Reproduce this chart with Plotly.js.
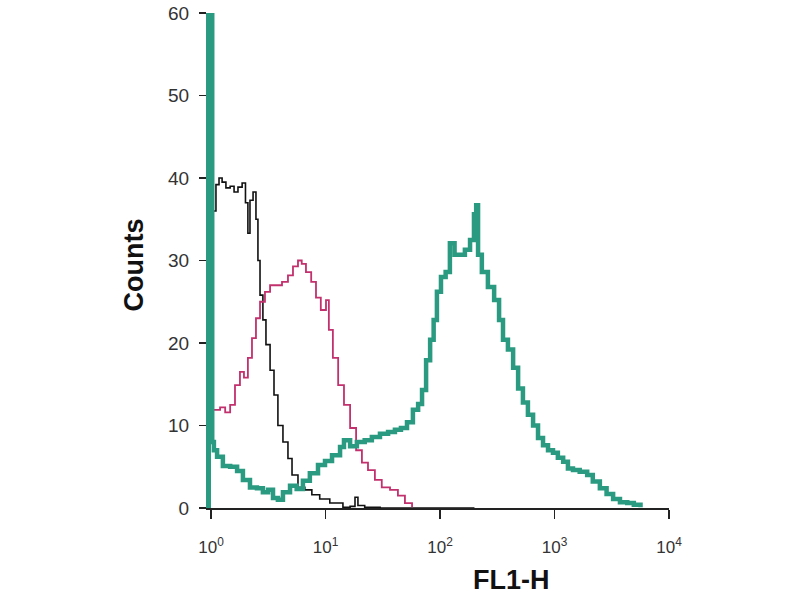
<!DOCTYPE html>
<html>
<head>
<meta charset="utf-8">
<script src="https://cdn.plot.ly/plotly-3.0.1.min.js"></script>
<style>html,body{margin:0;padding:0;background:#fff;}#chart{width:800px;height:600px;}</style>
</head>
<body>
<div id="chart"></div>
<script>
// Control (black) histogram
const blackX = [1.035,1.105,1.175,1.25,1.35,1.47,1.59,1.72,1.87,2.0,2.1,2.19,2.33,2.47,2.57,2.68,2.84,3.02,3.28,3.55,3.84,4.25,4.7,5.1,5.75,6.6,7.6,8.9,10.9,14.2,16.4,18.1,19.2,22,30,60,200];
const blackY = [36,39.2,40,39.5,38.8,39,38.3,38.9,39.4,37,33.3,37.3,38.3,35,30,25.8,22.8,19.8,16.7,13.7,10,8,6,4,2.5,2.2,1.6,1.1,0.6,0.1,0.2,1.3,0.3,0.1,0,0,0];

// Isotype / secondary (magenta) histogram
const magX = [1.06,1.2,1.33,1.47,1.62,1.79,1.94,2.1,2.28,2.47,2.68,2.96,3.28,3.7,4.17,4.7,5.2,5.75,6.2,6.75,7.5,8.26,9.1,10.1,10.7,11.6,12.9,14.5,16.4,18.5,20.8,23.5,27,31,36.6,42.9,49.4,57];
const magY = [11.9,12.2,11.6,12.5,14.9,16.5,15.8,18.2,20.6,23,25,26.2,27,27,27.4,28.2,29.3,30,29.6,28.6,27.4,25.5,24,25.2,21.6,18.2,14.9,12.5,9.7,7,5.5,4.6,3.4,2.5,2.2,1.5,0.6,0.1];

// Stained (teal) histogram
const tealX = [1.0,1.025,1.06,1.13,1.27,1.47,1.69,1.9,2.19,2.52,2.84,3.15,3.48,3.84,4.25,4.9,5.6,6.35,7.3,8.6,9.9,11.4,13.4,14.5,16.4,18.8,22,25.4,29.9,35.2,40.4,45.6,51.5,58,64.4,69.7,75.6,82,88,94,102,112,122,134,148,165,183,198,207,215,232,262,297,328,355,392,435,481,530,586,650,718,794,878,970,1070,1190,1310,1450,1660,1930,2160,2490,2850,3250,3730,4320,4930,5640];
const tealY = [75,8,7,6.2,5.1,5.0,4.5,3.4,2.5,2.4,1.9,2.2,1.2,1.0,1.9,2.7,2.3,3.3,4.2,5.2,5.7,6.4,7.4,8.2,7.5,8,8.2,8.6,9,9.2,9.5,9.7,10.4,11.9,12.6,14.3,17.9,20.4,22.8,26.2,28,28.6,32.1,30.7,30.7,31.3,32.5,35.6,36.7,30.7,28.6,26.8,25.2,22.8,20.4,19.2,17,14.5,12.8,11.3,10,8.5,7.6,7,6.7,6.1,5.6,4.8,4.6,4.4,4,3.2,2.4,1.7,1.1,0.7,0.6,0.4,0.1];

const xTickVals = [1,10,100,1000,10000];
const xTickText = ['10<sup>0</sup>','10<sup>1</sup>','10<sup>2</sup>','10<sup>3</sup>','10<sup>4</sup>'];
const yTickVals = [0,10,20,30,40,50,60];

const traces = [
  {x: blackX, y: blackY, type:'scatter', mode:'lines', line:{color:'#111111', width:1.6, shape:'hv'}, hoverinfo:'skip'},
  {x: magX, y: magY, type:'scatter', mode:'lines', line:{color:'#c2306d', width:1.8, shape:'hv'}, hoverinfo:'skip'},
  {x: tealX, y: tealY, type:'scatter', mode:'lines', line:{color:'#2a9a80', width:4.5, shape:'hv'}, hoverinfo:'skip', cliponaxis:false}
];

const layout = {
  width: 800, height: 600,
  margin: {l:211, r:131, t:13, b:92},
  paper_bgcolor:'#ffffff', plot_bgcolor:'#ffffff',
  showlegend:false,
  font:{family:'Liberation Sans, Arial, sans-serif', color:'#333'},
  xaxis: {
    type:'log', range:[0,4],
    tickvals: xTickVals, ticktext: xTickText,
    ticks:'outside', ticklen:9, tickwidth:1.2, tickcolor:'#222',
    showline:true, linecolor:'#222', linewidth:1.5,
    showgrid:false, zeroline:false,
    tickfont:{size:17, color:'#333'},
    ticklabelstandoff: 14
  },
  yaxis: {
    range:[0,60],
    tickvals: yTickVals,
    ticks:'outside', ticklen:7, tickwidth:1.2, tickcolor:'#222',
    showline:true, linecolor:'#2a9a80', linewidth:5,
    showgrid:false, zeroline:false,
    tickfont:{size:19, color:'#333'},
    ticklabelstandoff: 6
  },
  annotations: [
    {text:'<b>FL1-H</b>', xref:'paper', yref:'paper', x:0.657, y:-0.145, showarrow:false, xanchor:'center', yanchor:'middle', font:{size:27, color:'#111', family:'Liberation Sans, Arial, sans-serif'}},
    {text:'<b>Counts</b>', xref:'paper', yref:'paper', x:-0.168, y:0.49, showarrow:false, textangle:-90, xanchor:'center', yanchor:'middle', font:{size:27, color:'#111', family:'Liberation Sans, Arial, sans-serif'}}
  ]
};

Plotly.newPlot('chart', traces, layout, {staticPlot:true, displayModeBar:false});
</script>
</body>
</html>
